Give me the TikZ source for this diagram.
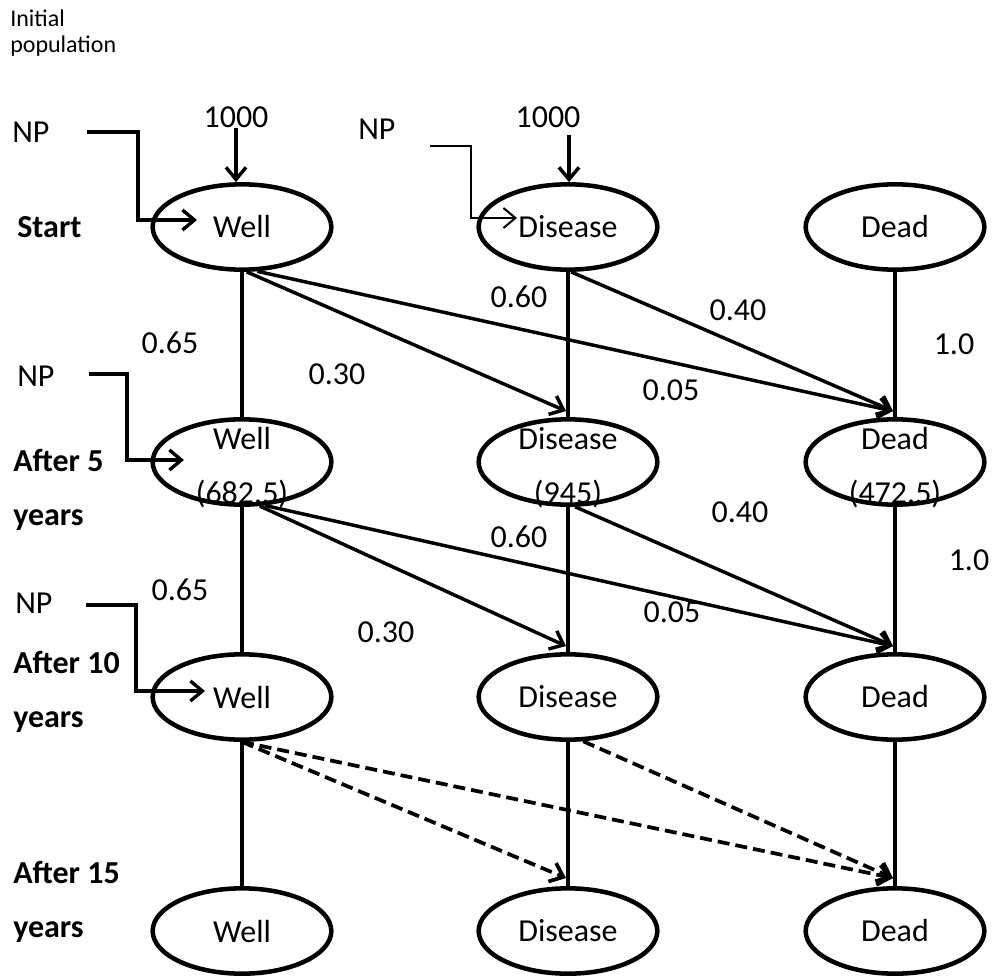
\documentclass[tikz,border=0pt]{standalone}
\usepackage{fontspec}
\setmainfont{Carlito}
\usetikzlibrary{arrows.meta,shapes.geometric,calc}
\newcommand\twolines[2]{\raisebox{-9pt}[0pt][0pt]{\begin{tabular}{@{}c@{}}#1\\#2\end{tabular}}}
\begin{document}
\begin{tikzpicture}[x=0.75pt,y=-0.75pt,
  st/.style={draw,ellipse,line width=3.4pt,minimum width=134pt,minimum height=64pt,
    inner sep=0pt,font=\fontsize{24}{41}\selectfont},
  lbl/.style={inner sep=0pt,font=\fontsize{24}{28}\selectfont},
  side/.style={inner sep=0pt,anchor=west,font=\bfseries\fontsize{24}{28}\selectfont},
  small/.style={inner sep=0pt,anchor=west,font=\fontsize{18}{21}\selectfont},
  vline/.style={line width=3.4pt},
  tip/.style={-{Straight Barb[length=9pt,width=15pt]}},
  tr/.style={tip,line width=2.6pt},
  np/.style={tip,line width=2.5pt},
  npthin/.style={tip,line width=1.5pt},
  dsh/.style={tr,line width=2.8pt,dash pattern=on 9pt off 4.5pt}
]
\useasboundingbox (0,0) rectangle (993,977);

% states
\node[st] (w1) at (242,227) {Well};
\node[st] (s1) at (568,227) {Disease};
\node[st] (d1) at (895,227) {Dead};
\node[st] (w2) at (242,462) {\twolines{Well}{(682.5)}};
\node[st] (s2) at (568,462) {\twolines{Disease}{(945)}};
\node[st] (d2) at (895,462) {\twolines{Dead}{(472.5)}};
\node[st] (w3) at (242,697) {Well};
\node[st] (s3) at (568,697) {Disease};
\node[st] (d3) at (895,697) {Dead};
\node[st] (w4) at (242,931) {Well};
\node[st] (s4) at (568,931) {Disease};
\node[st] (d4) at (895,931) {Dead};

% side labels
\node[small] (ini1) at (10,18) {Initial};
\node[small] (ini2) at (10,46) {population};
\node[side] (tStart) at (17,227) {Start};
\node[side] (t5a) at (13,460) {After 5};
\node[side] (t5b) at (13,520) {years};
\node[side] (t10a) at (13,662) {After 10};
\node[side] (t10b) at (13,722) {years};
\node[side] (t15a) at (13,872) {After 15};
\node[side] (t15b) at (13,932) {years};

% NP labels and arrows
\node[lbl,anchor=west] (np1) at (12,132) {NP};
\node[lbl,anchor=west] (np2) at (358,129) {NP};
\node[lbl,anchor=west] (np3) at (17,376) {NP};
\node[lbl,anchor=west] (np4) at (15,603) {NP};
\coordinate (np1a) at (87,132);  \coordinate (np1m) at (138,220); \coordinate (np1b) at (197,220);
\coordinate (np2a) at (430,146); \coordinate (np2m) at (471,218); \coordinate (np2b) at (517,218);
\coordinate (np3a) at (89,374);  \coordinate (np3m) at (127,460); \coordinate (np3b) at (184,460);
\coordinate (np4a) at (86,605);  \coordinate (np4m) at (136,691); \coordinate (np4b) at (205,691);
\draw[np] (np1a) -| (np1m) -- (np1b);
\draw[npthin] (np2a) -| (np2m) -- (np2b);
\draw[np] (np3a) -| (np3m) -- (np3b);
\draw[np] (np4a) -| (np4m) -- (np4b);

% initial population arrows
\node[lbl] (k1) at (236,117) {1000};
\node[lbl] (k2) at (548,117) {1000};
\coordinate (k2a) at (569,135);
\draw[tr] (k1.south) -- (k1.south |- w1.north);
\draw[tr] (k2a) -- (k2a |- s1.north);

% vertical transitions
\draw[vline] (w1) -- (w2);
\draw[vline] (s1) -- (s2);
\draw[vline] (d1) -- (d2);
\draw[vline] (w2) -- (w3);
\draw[vline] (s2) -- (s3);
\draw[vline] (d2) -- (d3);
\draw[vline] (w3) -- (w4);
\draw[vline] (s3) -- (s4);
\draw[vline] (d3) -- (d4);

% diagonal transitions, first period
\draw[tr] (w1.-84) -- ($(s2.north)+(-2,-6)$);
\draw[tr] (w1.-71) -- ($(d2.north)+(-2,-6)$);
\draw[tr] (s1.-86) -- ($(d2.north)+(-2,-6)$);
% second period
\draw[tr] (w2.-68) -- ($(s3.north)+(-2,-6)$);
\draw[tr] (w2.-62) -- ($(d3.north)+(-2,-6)$);
\draw[tr] (s2.-81) -- ($(d3.north)+(-2,-6)$);
% third period (dashed)
\draw[dsh] (w3.south) -- ($(s4.north)+(-2,-8)$);
\draw[dsh] (w3.south) -- ($(d4.north)+(-2,-8)$);
\draw[dsh] (s3.-71) -- ($(d4.north)+(-2,-8)$);

% probabilities
\node[lbl] (p1a) at (170,343) {0.65};
\node[lbl] (p1b) at (337,374) {0.30};
\node[lbl] (p1c) at (519,297) {0.60};
\node[lbl] (p1d) at (738,310) {0.40};
\node[lbl] (p1e) at (671,390) {0.05};
\node[lbl] (p1f) at (954,344) {1.0};
\node[lbl] (p2a) at (180,590) {0.65};
\node[lbl] (p2b) at (386,632) {0.30};
\node[lbl] (p2c) at (519,537) {0.60};
\node[lbl] (p2d) at (740,512) {0.40};
\node[lbl] (p2e) at (672,612) {0.05};
\node[lbl] (p2f) at (969,560) {1.0};
\end{tikzpicture}
\end{document}
